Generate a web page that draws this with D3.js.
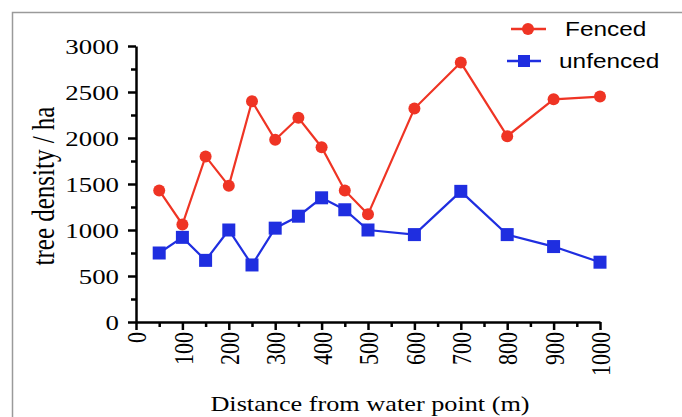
<!DOCTYPE html>
<html>
<head>
<meta charset="utf-8">
<script src="https://cdn.jsdelivr.net/npm/d3@7"></script>
<style>
  body { margin: 0; background: #fff; }
  svg { display: block; }
</style>
</head>
<body>
<script>
// distances from water point (m)
var distance = [50, 100, 150, 200, 250, 300, 350, 400, 450, 500, 600, 700, 800, 900, 1000];
// tree density per ha
var fenced   = [1430, 1060, 1800, 1480, 2400, 1980, 2220, 1900, 1430, 1170, 2320, 2820, 2020, 2420, 2450];
var unfenced = [750, 920, 670, 1000, 620, 1020, 1150, 1350, 1220, 1000, 950, 1420, 950, 820, 650];

var xTicks = [0, 100, 200, 300, 400, 500, 600, 700, 800, 900, 1000];
var xMinor = [50, 150, 250, 350, 450, 550, 650, 750, 850, 950];
var yTicks = [0, 500, 1000, 1500, 2000, 2500, 3000];
var yMinor = [250, 750, 1250, 1750, 2250, 2750];

var W = 682, H = 417;
var red = "#ef3424", blue = "#1f2ee0";
var stretch = 1.22; // the picture's text is widened horizontally

var svg = d3.select("body").append("svg")
    .attr("width", W)
    .attr("height", H);

// frame on top and left
svg.append("path")
    .attr("d", "M12.5," + H + "V12.5H" + W)
    .attr("fill", "none")
    .attr("stroke", "#9a9a9a")
    .attr("stroke-width", 1.5);

var x = d3.scaleLinear().domain([0, 1000]).range([136, 600]);
var y = d3.scaleLinear().domain([0, 3000]).range([322, 46]);

// minor ticks first
svg.append("g")
    .attr("transform", "translate(0," + y(0) + ")")
    .call(d3.axisBottom(x).tickValues(xMinor).tickSize(5).tickFormat(""))
    .call(function (g) { g.select(".domain").remove(); });
svg.append("g")
    .attr("transform", "translate(" + x(0) + ",0)")
    .call(d3.axisLeft(y).tickValues(yMinor).tickSize(5).tickFormat(""))
    .call(function (g) { g.select(".domain").remove(); });

// X axis
var gx = svg.append("g")
    .attr("transform", "translate(0," + y(0) + ")")
    .call(d3.axisBottom(x).tickValues(xTicks).tickSize(8).tickSizeOuter(0).tickFormat(d3.format("d")));
gx.selectAll("text")
    .attr("x", 0).attr("y", 0)
    .attr("dy", "0.36em")
    .attr("text-anchor", "end")
    .attr("transform", "translate(0,10) scale(" + stretch + ",1) rotate(-90)");

// Y axis
var gy = svg.append("g")
    .attr("transform", "translate(" + x(0) + ",0)")
    .call(d3.axisLeft(y).tickValues(yTicks).tickSize(8).tickSizeOuter(0).tickFormat(d3.format("d")));
gy.selectAll("text")
    .attr("x", 0)
    .attr("dy", "0.34em")
    .attr("text-anchor", "end")
    .attr("transform", "translate(-17,0) scale(" + stretch + ",1)");

svg.selectAll(".domain, .tick line")
    .attr("stroke", "#000")
    .attr("stroke-width", 2.5);
svg.selectAll(".tick text")
    .attr("fill", "#000")
    .style("font-family", "'Liberation Serif', 'Times New Roman', serif")
    .style("font-size", "22px");

// axis titles
svg.append("text")
    .attr("transform", "translate(370,411) scale(1.25,1)")
    .attr("text-anchor", "middle")
    .style("font-family", "'Liberation Serif', 'Times New Roman', serif")
    .style("font-size", "21px")
    .text("Distance from water point (m)");

svg.append("text")
    .attr("transform", "translate(54,186) scale(1.25,1) rotate(-90)")
    .attr("text-anchor", "middle")
    .style("font-family", "'Liberation Serif', 'Times New Roman', serif")
    .style("font-size", "25px")
    .text("tree density / ha");

// lines
var line = d3.line()
    .x(function (d, i) { return x(distance[i]); })
    .y(function (d) { return y(d); });

svg.append("path")
    .datum(fenced)
    .attr("fill", "none")
    .attr("stroke", red)
    .attr("stroke-width", 2.2)
    .attr("d", line);

svg.append("path")
    .datum(unfenced)
    .attr("fill", "none")
    .attr("stroke", blue)
    .attr("stroke-width", 2.2)
    .attr("d", line);

svg.selectAll("circle.fenced")
    .data(fenced)
    .enter().append("circle")
    .attr("class", "fenced")
    .attr("cx", function (d, i) { return x(distance[i]); })
    .attr("cy", function (d) { return y(d); })
    .attr("r", 6)
    .attr("fill", red);

svg.selectAll("rect.unfenced")
    .data(unfenced)
    .enter().append("rect")
    .attr("class", "unfenced")
    .attr("x", function (d, i) { return x(distance[i]) - 6.5; })
    .attr("y", function (d) { return y(d) - 6.5; })
    .attr("width", 13)
    .attr("height", 13)
    .attr("fill", blue);

// legend
var legend = svg.append("g");
legend.append("line")
    .attr("x1", 511).attr("x2", 546).attr("y1", 29).attr("y2", 29)
    .attr("stroke", red).attr("stroke-width", 2.5);
legend.append("circle")
    .attr("cx", 528).attr("cy", 29).attr("r", 6)
    .attr("fill", red);
legend.append("text")
    .attr("transform", "translate(565,35.5) scale(1.22,1)")
    .style("font-family", "'Liberation Sans', Arial, sans-serif")
    .style("font-size", "20px")
    .text("Fenced");

legend.append("line")
    .attr("x1", 507).attr("x2", 541).attr("y1", 61).attr("y2", 61)
    .attr("stroke", blue).attr("stroke-width", 2.5);
legend.append("rect")
    .attr("x", 518).attr("y", 55).attr("width", 12).attr("height", 12)
    .attr("fill", blue);
legend.append("text")
    .attr("transform", "translate(559,67.5) scale(1.22,1)")
    .style("font-family", "'Liberation Sans', Arial, sans-serif")
    .style("font-size", "20px")
    .text("unfenced");
</script>
</body>
</html>
